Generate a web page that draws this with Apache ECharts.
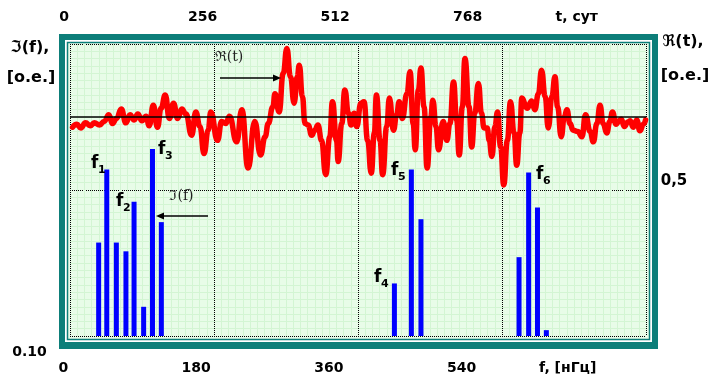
<!DOCTYPE html>
<html>
<head>
<meta charset="utf-8">
<script src="https://cdn.jsdelivr.net/npm/echarts@6/dist/echarts.min.js"></script>
<style>
  html, body { margin: 0; padding: 0; background: #fff; }
  #main { width: 711px; height: 380px; }
</style>
</head>
<body>
<div id="main"></div>
<script>
// top axis: time, days
const timeTicks = [0, 256, 512, 768, 979];
const timeTickLabels = ['0', '256', '512', '768', 't, сут'];
// bottom axis: frequency, nHz
const freqTicks = [0, 180, 360, 540, 684];
const freqTickLabels = ['0', '180', '360', '540', 'f, [нГц]'];

// R(t) signal
const timeDays = [5, 13, 21, 30, 39, 47, 57, 66, 75, 82,
  90, 99, 108, 116, 124, 131, 139, 147, 153, 161,
  169, 176, 184, 192, 200, 208, 216, 224, 235, 243,
  251, 259, 267, 272, 285, 293, 301, 308, 322, 332,
  344, 357, 368, 377, 383, 392, 396, 404, 412, 419,
  426, 433, 439, 443, 449, 454, 460, 467, 473, 479,
  486, 494, 502, 507, 515, 518, 525, 531, 538, 543,
  549, 554, 562, 568, 575, 582, 588, 592, 599, 604,
  612, 617, 625, 631, 636, 642, 651, 657, 663, 667,
  673, 678, 684, 690, 697, 701, 707, 712, 721, 728,
  734, 741, 747, 752, 758, 763, 771, 776, 782, 789,
  795, 800, 806, 810, 815, 821, 826, 832, 838, 845,
  851, 858, 863, 869, 873, 883, 892, 898, 905, 911,
  918, 924, 931, 937, 942, 949, 955, 960, 966, 972,
  981, 989, 996, 1005, 1011, 1018, 1024, 1030, 1037, 1043,
  1048, 1055, 1061, 1065, 1071, 1078, 1082, 1088, 1095, 1101,
  1108, 1112];
const reValues = [-0.14, -0.10, -0.15, -0.08, -0.12, -0.08, -0.11, -0.06, 0.03, -0.09,
  -0.02, 0.11, -0.08, 0.03, -0.04, 0.04, -0.05, 0.01, -0.12, 0.16,
  -0.14, 0.12, 0.30, -0.02, 0.19, -0.02, 0.11, 0.04, -0.25, 0.07,
  -0.13, -0.50, -0.18, 0.07, -0.32, -0.06, -0.09, 0.01, -0.34, 0.10,
  -0.70, -0.06, -0.52, -0.27, -0.09, 0.14, 0.32, 0.07, 0.60, 0.94,
  0.55, 0.19, 0.55, 0.71, 0.28, -0.09, -0.11, -0.25, -0.18, -0.11,
  -0.32, -0.79, -0.27, 0.21, -0.32, -0.61, -0.09, 0.37, 0.05, -0.11,
  0.05, -0.13, 0.19, 0.21, -0.32, -0.77, -0.22, 0.30, -0.32, -0.79,
  -0.13, 0.26, -0.18, 0.03, 0.21, -0.02, 0.32, 0.62, -0.09, -0.45,
  0.37, 0.67, 0.14, -0.70, 0.00, 0.23, -0.13, -0.45, -0.06, -0.32,
  -0.09, 0.48, -0.04, -0.52, 0.14, 0.80, 0.14, -0.41, 0.05, 0.46,
  0.05, -0.15, -0.15, -0.32, -0.54, -0.13, 0.07, -0.41, -0.93, -0.32,
  0.21, -0.22, -0.66, -0.22, 0.26, 0.12, 0.22, 0.10, 0.32, 0.64,
  0.28, -0.15, 0.28, 0.55, 0.14, -0.27, 0.00, 0.10, -0.09, -0.18,
  -0.20, -0.27, 0.03, -0.20, -0.34, -0.09, 0.16, -0.09, -0.22, -0.06,
  0.07, -0.10, -0.05, -0.03, -0.13, -0.07, -0.05, -0.14, -0.04, -0.19,
  -0.10, -0.04];

// I(f) spectrum lines
const freqNHz = [48, 59, 72, 85, 96, 109, 121, 133, 449, 472, 485, 618, 631, 643, 655];
const imValues = [0.32, 0.57, 0.32, 0.29, 0.46, 0.10, 0.64, 0.39, 0.18, 0.57, 0.40, 0.27, 0.56, 0.44, 0.02];

const peakNames = ['1', '2', '3', '4', '5', '6'];

const teal = '#0d7e79';
const plotBg = '#e8fce8';
const minorColor = '#d3f5d3';
const boldFont = '"DejaVu Sans", sans-serif';

const chart = echarts.init(document.getElementById('main'), null, { renderer: 'canvas' });

// decorative axes (grid 0) only draw the dotted and fine grid lines
function gridAxis(max) {
  return {
    gridIndex: 0, type: 'value', min: 0, max: max, interval: 20,
    axisLine: { show: false }, axisTick: { show: false }, axisLabel: { show: false },
    splitLine: { show: true, showMinLine: true, showMaxLine: true,
      lineStyle: { type: 'dotted', color: '#000', width: 1 } },
    minorTick: { show: false, splitNumber: 20 },
    minorSplitLine: { show: true, lineStyle: { color: minorColor, width: 1 } }
  };
}

function label(text, x, y, size, opts) {
  return Object.assign({
    type: 'text', x: x, y: y, z: 50,
    style: { text: text, fill: '#000', align: 'center', verticalAlign: 'middle',
      font: 'bold ' + size + 'px ' + boldFont }
  }, opts || {});
}

function arrow(x1, x2, y) {
  const dir = x2 > x1 ? 1 : -1;
  return [
    { type: 'line', z: 50, shape: { x1: x1, y1: y, x2: x2 - dir * 6, y2: y },
      style: { stroke: '#000', lineWidth: 1.6 } },
    { type: 'polygon', z: 50, shape: { points: [[x2, y], [x2 - dir * 8, y - 3.5], [x2 - dir * 8, y + 3.5]] },
      style: { fill: '#000' } }
  ];
}

// f-labels: left of "f", centre y, then the subscript
const peakPos = [[91, 164], [116, 202], [158, 150], [374, 278], [391, 171], [536, 175]];
const peakLabels = [];
peakPos.forEach(function (p, i) {
  peakLabels.push(label('f', p[0], p[1], 17, { style: { text: 'f', fill: '#000', align: 'left', verticalAlign: 'middle', font: 'bold 17px ' + boldFont } }));
  peakLabels.push(label(peakNames[i], p[0] + 7, p[1] + 6, 11, { style: { text: peakNames[i], fill: '#000', align: 'left', verticalAlign: 'middle', font: 'bold 11px ' + boldFont } }));
});

const option = {
  animation: false,
  backgroundColor: '#fff',
  grid: [
    { left: 70, right: 65, top: 44, bottom: 44, outerBoundsMode: 'none' },
    { left: 59, right: 53, top: 44, bottom: 44, outerBoundsMode: 'none' }
  ],
  xAxis: [
    gridAxis(80),
    {
      gridIndex: 1, type: 'value', position: 'bottom', min: -5.76, max: 806.4,
      axisLine: { show: false }, axisTick: { show: false }, splitLine: { show: false },
      axisLabel: {
        customValues: freqTicks, margin: 25, color: '#000', fontWeight: 'bold',
        fontSize: 14, fontFamily: boldFont,
        formatter: function (v) { return freqTickLabels[freqTicks.indexOf(v)]; }
      }
    },
    {
      gridIndex: 1, type: 'value', position: 'top', min: -21.25, max: 1136,
      axisLine: { show: false }, axisTick: { show: false }, splitLine: { show: false },
      axisLabel: {
        customValues: timeTicks, margin: 20, color: '#000', fontWeight: 'bold',
        fontSize: 14, fontFamily: boldFont,
        formatter: function (v) {
          const s = timeTickLabels[timeTicks.indexOf(v)];
          return v === 0 ? '{z|' + s + '}' : s;
        },
        rich: { z: { padding: [0, 12, 0, 0], fontWeight: 'bold', fontSize: 14, fontFamily: boldFont, color: '#000' } }
      }
    }
  ],
  yAxis: [
    gridAxis(40),
    { gridIndex: 1, type: 'value', min: 0, max: 1, show: false },
    { gridIndex: 1, type: 'value', min: -3, max: 1, show: false }
  ],
  graphic: [
    { type: 'rect', z: -10, shape: { x: 59, y: 34, width: 599, height: 315 }, style: { fill: teal } },
    { type: 'rect', z: -9, shape: { x: 65, y: 40, width: 587, height: 302 }, style: { fill: '#fff' } },
    { type: 'rect', z: -8, shape: { x: 67.5, y: 42.5, width: 582, height: 297 },
      style: { fill: plotBg, stroke: teal, lineWidth: 1.5 } },
    label('ℑ(f),', 30, 48, 16),
    label('[o.e.]', 31, 78, 16),
    label('ℜ(t),', 683, 42, 16),
    label('[o.e.]', 685, 76, 16),
    label('0,5', 674, 181, 15),
    label('0.10', 29.5, 352, 14),
    { type: 'text', x: 229, y: 57.5, z: 50,
      style: { text: 'ℜ(t)', fill: '#222', align: 'center', verticalAlign: 'middle', font: '14px "DejaVu Serif", serif' } },
    { type: 'text', x: 181.5, y: 196, z: 50,
      style: { text: 'ℑ(f)', fill: '#222', align: 'center', verticalAlign: 'middle', font: '14px "DejaVu Serif", serif' } }
  ].concat(arrow(220, 281, 78), arrow(208, 156, 216), peakLabels),
  series: [
    {
      type: 'bar', xAxisIndex: 1, yAxisIndex: 1, barWidth: 5,
      itemStyle: { color: '#0000ff' },
      data: freqNHz.map(function (f, i) { return [f, imValues[i]]; })
    },
    {
      type: 'line', xAxisIndex: 2, yAxisIndex: 2, z: 3,
      showSymbol: false, smooth: 0.5, smoothMonotone: 'x',
      lineStyle: { color: '#ff0000', width: 5.5, cap: 'round', join: 'round' },
      data: timeDays.map(function (t, i) { return [t, reValues[i]]; }),
      markLine: {
        silent: true, symbol: ['none', 'none'], label: { show: false },
        lineStyle: { color: '#000', width: 1.5, type: 'solid' },
        data: [[{ coord: [0, 0] }, { coord: [1113, 0] }]]
      }
    }
  ]
};

chart.setOption(option);
</script>
</body>
</html>
